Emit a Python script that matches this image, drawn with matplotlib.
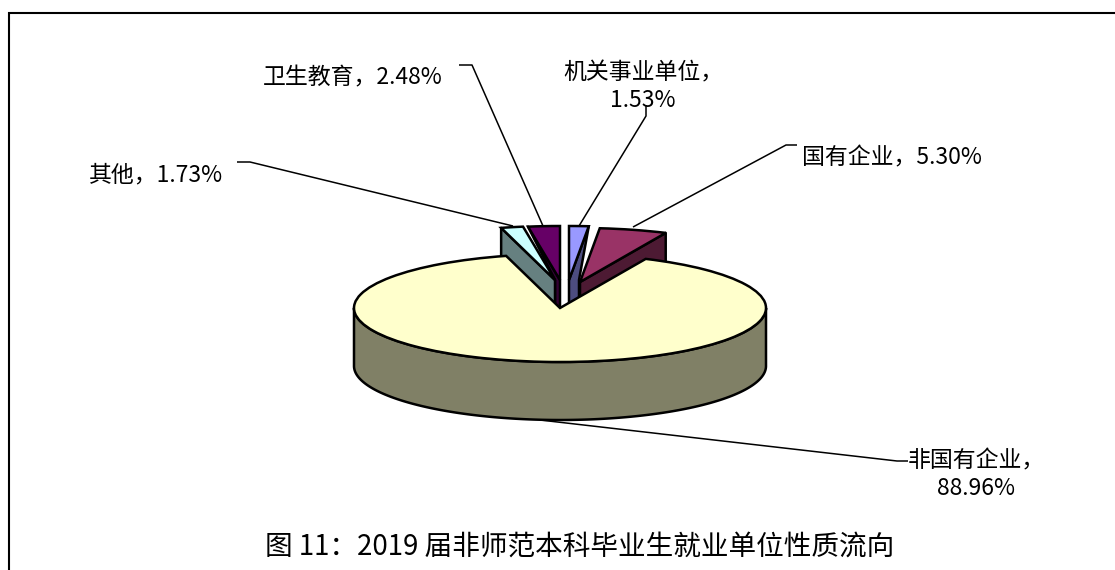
import numpy as np
import matplotlib
matplotlib.use("Agg")
import matplotlib.pyplot as plt

plt.rcParams['font.family'] = ['Noto Sans CJK SC', 'DejaVu Sans']

# ---- data ----
categories = ['机关事业单位', '国有企业', '非国有企业', '其他', '卫生教育']
values = [1.53, 5.30, 88.96, 1.73, 2.48]
title_text = '图 11：2019 届非师范本科毕业生就业单位性质流向'

# ---- style ----
top_colors = ['#9999FF', '#993366', '#FFFFCC', '#CCFFFF', '#660066']
side_colors = ['#4D4D80', '#4D1A33', '#808066', '#668080', '#330033']
W, H = 1115, 570
CX, CY, RX, RY, DEPTH = 560, 308, 206, 54, 58
# slice displacement in pixels (right, up)
shift_px = [(9, 28), (20, 26), (0, 0), (-5, 28), (0, 28)]
# band width of the narrow visible wall next to the tip (None: full wall)
wall_band = [10, None, None, None, -5]
# which cut edge of the slice shows a wall: index into the slice's start/end
wall_edge = [1, 1, None, 0, 0]
draw_order = [4, 3, 0, 1, 2]

fig = plt.figure(figsize=(W / 100, H / 100), dpi=100, facecolor='white')

# ---- pixel overlay: frame, labels, leader lines ----
bg = fig.add_axes([0, 0, 1, 1])
bg.set_xlim(0, W)
bg.set_ylim(H, 0)
bg.axis('off')
bg.plot([8.5, 8.5, W], [H, 13, 13], color='black', lw=1.5, solid_joinstyle='miter')

leaders = [
    ([646, 646, 579], [105, 116, 226]),
    ([797, 786, 633], [145, 145, 227]),
    ([908, 897, 540], [461, 461, 420]),
    ([237, 250, 513], [162, 162, 226]),
    ([459, 472, 543], [65, 65, 226]),
]
for xs, ys in leaders:
    bg.plot(xs, ys, color='black', lw=1.1, solid_capstyle='butt')

label_pos = [(643, 86.5), (892, 158), (976, 474.5), (156, 175), (353, 78)]
label_break = [True, False, True, False, False]
for cat, val, (x, y), brk in zip(categories, values, label_pos, label_break):
    sep = '，\n' if brk else '，'
    bg.text(x, y, f'{cat}{sep}{val:.2f}%', ha='center', va='center', fontsize=16.5,
            color='black', linespacing=1.26)
bg.text(579.5, 547, title_text, ha='center', va='center', fontsize=19.9, color='black')

# ---- pie: unit circle squashed into an ellipse by the axis limits ----
ax = fig.add_axes([0, 0, 1, 1], facecolor='none')
wedges, _ = ax.pie(values, startangle=90, counterclock=False, radius=1,
                   colors=top_colors,
                   wedgeprops=dict(edgecolor='black', linewidth=1.8))
ax.set_aspect('auto')
ax.set_xlim(-CX / RX, (W - CX) / RX)
ax.set_ylim((CY - H) / RY, CY / RY)
ax.axis('off')

depth = DEPTH / RY
edges = np.concatenate([[0], np.cumsum(values)]) / np.sum(values) * 2 * np.pi

for z, i in enumerate(draw_order):
    dx, dy = shift_px[i][0] / RX, shift_px[i][1] / RY
    wedge = wedges[i]
    wedge.set_center((dx, dy))
    wedge.set_zorder(2 * z + 2)
    if wall_edge[i] is None:
        # front rim of the large slice
        a = np.linspace(np.pi / 2, 3 * np.pi / 2, 200)
        x, y = np.sin(a), np.cos(a)
        px = np.r_[x, x[::-1]] + dx
        py = np.r_[y, y[::-1] - depth] + dy
    else:
        ang = edges[i + wall_edge[i]]
        x, y = np.sin(ang), np.cos(ang)
        if wall_band[i] is None:
            px = np.array([0, x, x, 0]) + dx
            py = np.array([0, y, y - depth, -depth]) + dy
        else:
            b = wall_band[i] / RX
            px = np.array([0, x, b, b, 0]) + dx
            py = np.array([0, y, 0, -depth, -depth]) + dy
    ax.fill(px, py, facecolor=side_colors[i], edgecolor='black', linewidth=1.8,
            joinstyle='round', zorder=2 * z + 1)

fig.savefig('out.png', dpi=100)
